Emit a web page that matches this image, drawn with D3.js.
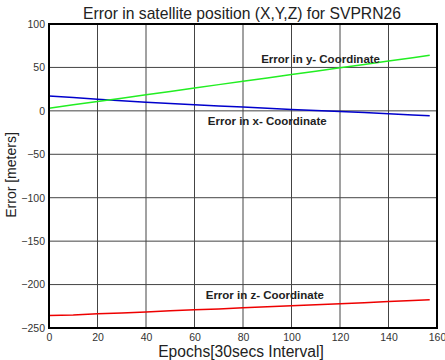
<!DOCTYPE html>
<html><head><meta charset="utf-8">
<script src="https://cdn.jsdelivr.net/npm/d3@7"></script>
<style>body{margin:0;background:#fff;} svg{display:block;font-family:"Liberation Sans",Arial,sans-serif;}</style>
</head><body>
<script>
const epochs = [0,10,20,30,40,50,60,70,80,90,100,110,120,130,140,150,157];
const errX = [17,15.5,13.5,11.6,10,8.5,7,5.6,4.4,3,1.6,0.4,-0.8,-2,-3.4,-4.8,-5.7];
const errY = [3,6.9,10.8,14.6,18.5,22.4,26.3,30.2,34,37.9,41.8,45.7,49.6,53.4,57.3,61.2,64];
const errZ = [-235.5,-235,-233.6,-232.6,-231.5,-230.2,-229,-228,-226.8,-225.5,-224.3,-223.2,-222,-220.8,-219.6,-218.3,-217.4];
const xTicks = [0,20,40,60,80,100,120,140,160];
const yTicks = [100,50,0,-50,-100,-150,-200,-250];
const seriesNames = ["Error in x- Coordinate","Error in y- Coordinate","Error in z- Coordinate"];
const seriesColors = ["#0000cc","#22ee22","#ee0000"];

const W=445,H=360, L=49,R=437,T=24,B=328;
const svg=d3.select("body").append("svg").attr("width",W).attr("height",H);
const x=d3.scaleLinear().domain([0,160]).range([L,R]);
const y=d3.scaleLinear().domain([-250,100]).range([B,T]);

// grid
svg.append("g").selectAll("line").data(xTicks).join("line")
 .attr("x1",d=>x(d)).attr("x2",d=>x(d)).attr("y1",T).attr("y2",B)
 .attr("stroke","#444").attr("stroke-width",1);
svg.append("g").selectAll("line").data(yTicks).join("line")
 .attr("x1",L).attr("x2",R).attr("y1",d=>y(d)).attr("y2",d=>y(d))
 .attr("stroke","#444").attr("stroke-width",1);

// axes labels
const xa=svg.append("g").attr("transform",`translate(0,${B})`)
 .call(d3.axisBottom(x).tickValues(xTicks).tickSize(0).tickPadding(6));
xa.select(".domain").remove();
xa.selectAll("text").attr("font-size",10.5).attr("fill","#333").attr("font-family","Liberation Sans, Arial, sans-serif");
const ya=svg.append("g").attr("transform",`translate(${L},0)`)
 .call(d3.axisLeft(y).tickValues(yTicks).tickSize(0).tickPadding(4));
ya.select(".domain").remove();
ya.selectAll("text").attr("font-size",10.5).attr("fill","#333").attr("font-family","Liberation Sans, Arial, sans-serif");

// lines
const data=[errX,errY,errZ];
const line=d3.line().x((d,i)=>x(epochs[i])).y(d=>y(d));
data.forEach((s,k)=>{
  svg.append("path").datum(s).attr("d",line).attr("fill","none")
   .attr("stroke",seriesColors[k]).attr("stroke-width",1.5);
});

// frame
svg.append("rect").attr("x",L).attr("y",T).attr("width",R-L).attr("height",B-T)
 .attr("fill","none").attr("stroke","#000").attr("stroke-width",2);

// annotations
const ann=[{t:seriesNames[1],ex:112,ey:59},{t:seriesNames[0],ex:90,ey:-13},{t:seriesNames[2],ex:89,ey:-213}];
ann.forEach(a=>{
  svg.append("text").attr("x",x(a.ex)).attr("y",y(a.ey)).attr("text-anchor","middle")
   .attr("dominant-baseline","middle").attr("font-size",11.5).attr("font-weight","bold")
   .attr("fill","#222").text(a.t);
});

svg.append("text").attr("x",242).attr("y",19).attr("text-anchor","middle")
 .attr("font-size",15.7).attr("fill","#222").text("Error in satellite position (X,Y,Z) for SVPRN26");
svg.append("text").attr("x",241).attr("y",357).attr("text-anchor","middle")
 .attr("font-size",15.6).attr("fill","#222").text("Epochs[30secs Interval]");
svg.append("text").attr("transform",`translate(16,175) rotate(-90)`).attr("text-anchor","middle")
 .attr("font-size",14).attr("fill","#222").text("Error [meters]");
</script>
</body></html>
